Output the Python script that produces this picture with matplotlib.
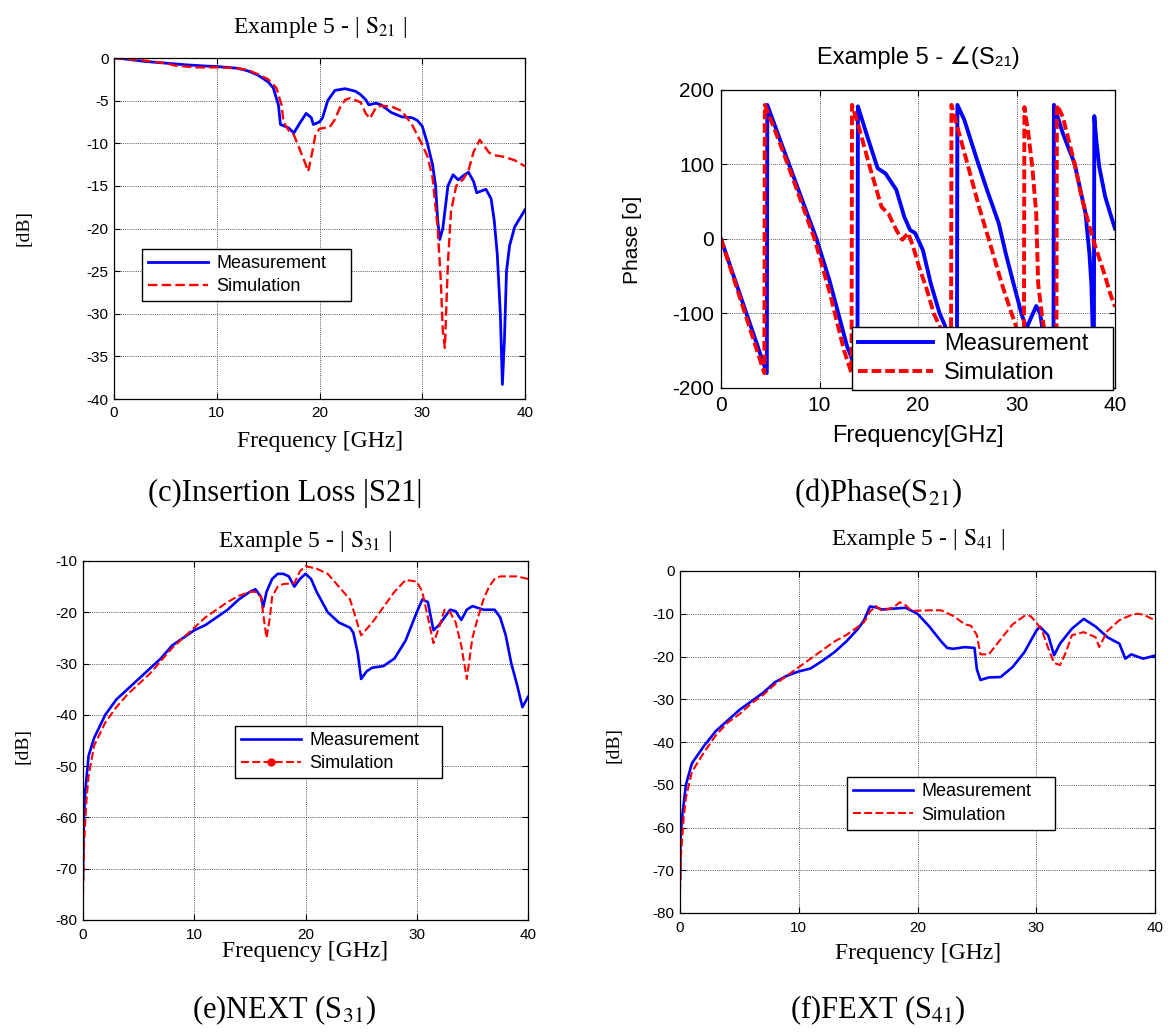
import matplotlib
matplotlib.use("Agg")
import matplotlib.pyplot as plt
from matplotlib.lines import Line2D

plt.rcParams['font.family'] = ['Liberation Sans', 'DejaVu Sans']
plt.rcParams['mathtext.fontset'] = 'custom'
plt.rcParams['mathtext.rm'] = 'Liberation Sans'
plt.rcParams['mathtext.it'] = 'Liberation Sans:italic'
plt.rcParams['axes.unicode_minus'] = False

# ---------------- data ----------------
freq_ticks = [0, 10, 20, 30, 40]

s21_meas = [(0, 0), (1, -0.1), (3, -0.4), (5, -0.6), (7, -0.8), (9, -0.95), (10, -1.0), (12, -1.2),
            (13, -1.5), (14, -2.0), (15, -2.8), (15.5, -3.5), (16, -5.5), (16.2, -7.8), (17, -8.2),
            (17.5, -8.8), (18, -7.8), (18.7, -6.5), (19.2, -7.0), (19.4, -7.8), (20, -7.5), (20.3, -7.0),
            (20.8, -5.0), (21.5, -3.8), (22.5, -3.6), (23.5, -3.9), (24, -4.3), (24.5, -4.9), (24.8, -5.5),
            (25.5, -5.3), (26, -5.5), (27, -6.4), (28, -6.9), (29, -7.0), (29.5, -7.3), (30, -8.0),
            (30.5, -10), (31, -12.5), (31.3, -15), (31.5, -19), (31.7, -21.3), (32, -20), (32.3, -17),
            (32.5, -15), (33, -13.7), (33.5, -14.3), (34, -13.8), (34.5, -13.4), (35, -14.5), (35.3, -15.8),
            (36.2, -15.4), (36.7, -16.5), (37, -19), (37.3, -23), (37.6, -30), (37.8, -38.3), (38, -33),
            (38.2, -25), (38.5, -22), (39, -19.8), (39.5, -18.8), (40, -17.8)]
s21_sim = [(0, 0), (3, -0.3), (5, -0.6), (6, -0.9), (8, -1.1), (10, -1.1), (12, -1.2), (13, -1.4),
           (14, -1.9), (15, -2.5), (15.8, -3.5), (16.3, -5.5), (16.5, -7.5), (17, -8.5), (17.5, -9),
           (18, -10.5), (18.5, -12), (18.9, -13.3), (19.3, -11), (19.6, -9), (20, -8.3), (21, -8.1),
           (21.5, -7.2), (22, -5.8), (22.5, -4.9), (23, -4.7), (24, -5.2), (24.5, -6.5), (24.9, -7.1),
           (25.5, -5.8), (26, -5.6), (27, -5.7), (28, -6.2), (29, -7.8), (30, -10.2), (30.5, -11.5),
           (31, -14), (31.5, -20), (31.8, -26), (32, -32), (32.2, -34), (32.5, -24), (32.8, -18),
           (33.3, -15), (34, -14.2), (34.5, -13.2), (35, -11), (35.6, -9.6), (36.5, -11.1), (37, -11.4),
           (38, -11.6), (39, -12), (40, -12.7)]

phase_meas = [(0, 0), (4.65, -180), (4.7, 180), (6, 133), (7, 97), (8, 61), (9.7, 0), (11, -55),
              (12.8, -144), (13.85, -180), (13.9, 178), (14.75, 142), (15.9, 95), (16.7, 88), (17.8, 66),
              (18.6, 30), (19.2, 12), (19.7, 8), (20.5, -15), (21.3, -60), (22.2, -100), (22.7, -115),
              (23.4, -150), (23.95, -180), (24.0, 180), (24.7, 160), (25.9, 110), (27.0, 66), (28.2, 21),
              (28.9, -19), (29.7, -60), (30.5, -100), (31, -120), (31.5, -105), (32, -90), (32.4, -100),
              (32.8, -135), (33.3, -160), (33.75, -180), (33.8, 180), (34.7, 142), (35.9, 101), (37, 35),
              (37.4, -19), (37.6, -60), (37.8, -150), (37.85, -180), (37.9, 165), (38.1, 133), (38.4, 97),
              (39, 57), (39.5, 35), (40, 14)]
phase_sim = [(0, 0), (4.4, -180), (4.45, 180), (6, 128), (7, 92), (9.5, 0), (11, -70), (12.5, -150),
             (13.25, -180), (13.3, 180), (14, 150), (15.1, 97), (16.3, 43), (17, 34), (17.8, 12), (18.4, -1),
             (19, 8), (19.5, -10), (20.1, -37), (20.9, -68), (21.6, -100), (22.2, -117), (22.8, -150),
             (23.35, -180), (23.4, 180), (24, 150), (25.1, 97), (26.2, 43), (27.4, -10), (28.5, -60),
             (29.5, -100), (29.9, -115), (30.5, -150), (30.75, -180), (30.8, 177), (31.2, 142), (31.6, 97),
             (32, 35), (32.2, -60), (32.6, -104), (33.2, -150), (34.05, -180), (34.1, 180), (34.7, 164),
             (35.9, 101), (36.6, 57), (37.4, 17), (38, -10), (39, -50), (39.5, -73), (40, -91)]

s31_meas = [(0, -72), (0.05, -62), (0.2, -55), (0.5, -48), (1, -44.5), (2, -40), (3, -37), (4, -35),
            (5, -33), (6, -31), (7, -29), (8, -26.5), (9, -25), (10, -23.5), (11, -22.5), (12, -21),
            (13, -19.5), (14, -17.5), (15, -16), (15.5, -15.5), (16, -17), (16.2, -19), (16.5, -16),
            (17, -13.5), (17.5, -12.5), (18, -12.5), (18.5, -13), (19, -15), (19.5, -13.5), (20, -12.5),
            (20.5, -13.5), (21, -16), (22, -20), (23, -22), (24, -23), (24.3, -24), (24.7, -28), (25, -33),
            (25.5, -31.5), (26, -30.8), (27, -30.5), (28, -29), (29, -25.5), (30, -20), (30.5, -17.5),
            (31, -18), (31.5, -23.5), (32, -22.5), (32.5, -21), (33, -19.5), (33.5, -19.8), (34, -21.5),
            (34.5, -19.5), (35, -18.8), (36, -19.5), (37, -19.5), (37.5, -21), (38, -24.5), (38.5, -30),
            (39, -34), (39.5, -38.5), (40, -36.5)]
s31_sim = [(0, -75), (0.1, -65), (0.3, -57), (0.5, -52), (1, -46), (2, -41.5), (3, -38.5), (4, -36),
           (5, -34), (6, -32), (7, -29.5), (8, -27), (9, -25), (10, -23), (11, -21), (12, -19.5), (13, -18),
           (14, -16.8), (15, -16), (15.5, -16), (16, -17), (16.3, -22), (16.5, -25), (16.8, -21), (17, -17),
           (17.5, -15), (18, -14.5), (19, -14.3), (19.5, -12), (20, -11), (21, -11.5), (22, -12.5),
           (23, -15), (24, -17.5), (24.5, -21), (25, -24.5), (26, -22), (27, -19), (28, -16), (29, -13.7),
           (30, -14), (30.5, -16), (31, -21), (31.5, -26), (32, -23), (32.5, -19.5), (33, -20), (33.5, -22),
           (34, -26.5), (34.5, -33), (35, -25), (35.5, -21), (36, -17.5), (36.5, -15), (37, -13.5),
           (37.5, -13), (38, -13), (39, -13), (40, -13.5)]

s41_meas = [(0, -72), (0.05, -62), (0.2, -57), (0.5, -50), (1, -45), (2, -41), (3, -37.5), (4, -35),
            (5, -32.5), (6, -30.5), (7, -28.5), (8, -26), (9, -24.5), (10, -23.5), (11, -22.8), (12, -21),
            (13, -19), (14, -16.5), (15, -13.5), (15.5, -11.5), (16, -8.3), (16.5, -8.5), (17, -9),
            (18, -8.8), (19, -8.6), (20, -10), (21, -13), (22, -16.5), (22.5, -18), (23, -18.2), (24, -17.8),
            (24.8, -18), (25, -23), (25.3, -25.5), (26, -24.9), (27, -24.8), (28, -22.5), (29, -19),
            (30, -14), (30.3, -13), (31, -15), (31.5, -19.7), (32, -17), (33, -13.5), (34, -11.2), (35, -13),
            (36, -15.5), (37, -17), (37.5, -20.5), (38, -19.5), (39, -20.5), (40, -19.8)]
s41_sim = [(0, -75), (0.1, -66), (0.3, -58), (0.5, -53), (1, -47), (2, -42.5), (3, -38.5), (4, -35.5),
           (5, -33.5), (6, -31), (7, -29), (8, -26.5), (9, -24.5), (10, -22.5), (11, -20.5), (12, -18.5),
           (13, -16.5), (14, -15), (15, -13), (15.5, -12), (16, -9.5), (16.5, -8.2), (17, -9.3), (18, -8.5),
           (18.5, -7.3), (19, -8), (19.5, -9.3), (20, -9.3), (21, -9.2), (22, -9.2), (23, -10.5),
           (24, -12.5), (24.5, -12.8), (25, -15), (25.3, -19.5), (26, -19.5), (27, -16), (28, -12.5),
           (29, -10.5), (29.5, -10.5), (30, -12), (30.5, -14), (31, -18), (31.5, -21.5), (32, -22),
           (32.5, -19), (33, -15), (34, -14.3), (35, -15.5), (35.3, -17.8), (36, -14), (37, -11.5),
           (38, -10.3), (38.5, -10), (39, -10.2), (40, -11.5)]

legend_labels = ["Measurement", "Simulation"]
captions = ["(c)Insertion Loss |S21|", "(d)Phase(S$_{21}$)", "(e)NEXT (S$_{31}$)", "(f)FEXT (S$_{41}$)"]

# ---------------- layout helpers ----------------
W, H = 1176, 1035
fig = plt.figure(figsize=(W / 100, H / 100), dpi=100)
fig.patch.set_facecolor('white')

def px_box(l, t, r, b):
    return [l / W, 1 - b / H, (r - l) / W, (b - t) / H]

def fx(x):
    return x / W

def fy(y):
    return 1 - y / H

SERIF = ['Liberation Serif', 'DejaVu Serif']
SANS = ['Liberation Sans', 'DejaVu Sans']
BLUE = '#0000ff'
RED = '#ff0000'

def unzip(pairs):
    return [p[0] for p in pairs], [p[1] for p in pairs]

def style_axes(ax, yticks, ylim, tick_fs, xpad, ypad):
    ax.set_xlim(0, 40)
    ax.set_ylim(*ylim)
    ax.set_xticks(freq_ticks)
    ax.set_yticks(yticks)
    ax.tick_params(direction='in', top=True, right=True, length=4, width=0.8,
                   labelsize=tick_fs)
    ax.tick_params(axis='x', pad=xpad)
    ax.tick_params(axis='y', pad=ypad)
    ax.grid(True, linestyle=(0, (1, 1.2)), color='0.35', linewidth=0.7)
    for s in ax.spines.values():
        s.set_linewidth(0.9)
        s.set_color('black')

def labels(ax, xl, xlpos, yl, ylpos, fam, xfs, yfs):
    ax.set_xlabel(xl, family=fam, fontsize=xfs, va='center')
    ax.xaxis.set_label_coords(fx(xlpos[0]), fy(xlpos[1]), transform=fig.transFigure)
    ax.set_ylabel(yl, family=fam, fontsize=yfs, va='center')
    ax.yaxis.set_label_coords(fx(ylpos[0]), fy(ylpos[1]), transform=fig.transFigure)

def legend_at(ax, handles, box, fs, hl, lspace=0.35, bpad=0.35):
    l, t, r, b = box
    leg = ax.legend(handles, legend_labels, loc='center', mode='expand',
                    bbox_to_anchor=(fx(l), fy(b), (r - l) / W, (b - t) / H),
                    bbox_transform=fig.transFigure, handlelength=hl,
                    fancybox=False, framealpha=1, edgecolor='black', borderaxespad=0,
                    labelspacing=lspace, handletextpad=0.45, borderpad=bpad,
                    prop={'family': SANS, 'size': fs})
    leg.get_frame().set_linewidth(1.0)
    leg.set_zorder(10)
    return leg

# ---------------- (c) |S21| ----------------
ax = fig.add_axes(px_box(114, 58, 525, 399))
x, y = unzip(s21_meas)
h1, = ax.plot(x, y, color=BLUE, lw=2.0)
x, y = unzip(s21_sim)
h2, = ax.plot(x, y, color=RED, lw=1.7, ls='--', dashes=(4.0, 1.8))
style_axes(ax, [0, -5, -10, -15, -20, -25, -30, -35, -40], (-40, 0), 11, 5, 4)
fig.text(fx(320), fy(28), r'Example 5 - | $\mathrm{S}_{21}$ |', family=SERIF, fontsize=17,
         math_fontfamily='stix', ha='center', va='center')
labels(ax, 'Frequency [GHz]', (320, 441), '[dB]', (24, 228), SERIF, 17, 14)
legend_at(ax, [h1, h2], (142, 248, 351, 302), 13, 3.3)

# ---------------- (d) phase ----------------
ax = fig.add_axes(px_box(721, 90, 1115, 388))
x, y = unzip(phase_meas)
h1, = ax.plot(x, y, color=BLUE, lw=2.8)
x, y = unzip(phase_sim)
h2, = ax.plot(x, y, color=RED, lw=2.8, ls='--', dashes=(2.5, 1.0))
style_axes(ax, [-200, -100, 0, 100, 200], (-200, 200), 15, 6, 5)
fig.text(fx(918), fy(58), 'Example 5 - ∠(S₂₁)', family=SANS, fontsize=17,
         ha='center', va='center')
labels(ax, 'Frequency[GHz]', (918, 436), 'Phase [o]', (633, 240), SANS, 17, 15)
legend_at(ax, [h1, h2], (852, 325, 1113, 392), 17, 3.2, lspace=0.3, bpad=0.25)

# ---------------- (e) NEXT |S31| ----------------
ax = fig.add_axes(px_box(83, 561, 528, 920))
x, y = unzip(s31_meas)
h1, = ax.plot(x, y, color=BLUE, lw=1.9)
x, y = unzip(s31_sim)
h2, = ax.plot(x, y, color=RED, lw=1.5, ls='--', dashes=(3.8, 1.6))
style_axes(ax, [-80, -70, -60, -50, -40, -30, -20, -10], (-80, -10), 11, 6, 4)
fig.text(fx(305), fy(542), r'Example 5 - | $\mathrm{S}_{31}$ |', family=SERIF, fontsize=17,
         math_fontfamily='stix', ha='center', va='center')
labels(ax, 'Frequency [GHz]', (305, 952), '[dB]', (23, 746), SERIF, 17, 14)
h2_leg = Line2D([], [], color=RED, lw=1.5, ls='--', dashes=(3.8, 1.6), marker='o', ms=5)
legend_at(ax, [h1, h2_leg], (235, 726, 442, 778), 13, 3.3)

# ---------------- (f) FEXT |S41| ----------------
ax = fig.add_axes(px_box(680, 571, 1155, 913))
x, y = unzip(s41_meas)
h1, = ax.plot(x, y, color=BLUE, lw=1.9)
x, y = unzip(s41_sim)
h2, = ax.plot(x, y, color=RED, lw=1.5, ls='--', dashes=(3.8, 1.6))
style_axes(ax, [-80, -70, -60, -50, -40, -30, -20, -10, 0], (-80, 0), 11, 6, 4)
fig.text(fx(918), fy(540), r'Example 5 - | $\mathrm{S}_{41}$ |', family=SERIF, fontsize=17,
         math_fontfamily='stix', ha='center', va='center')
labels(ax, 'Frequency [GHz]', (918, 953), '[dB]', (614, 745), SERIF, 17, 14)
legend_at(ax, [h1, h2], (847, 777, 1055, 830), 13, 3.3)

# ---------------- captions ----------------
cap_pos = [(285, 493), (878, 493), (284, 1010), (878, 1010)]
for (cx, cy), txt in zip(cap_pos, captions):
    fig.text(fx(cx), fy(cy), txt, ha='center', va='center', family=SERIF,
             fontsize=22, math_fontfamily='stix')

fig.savefig('out.png', dpi=100, facecolor='white')
